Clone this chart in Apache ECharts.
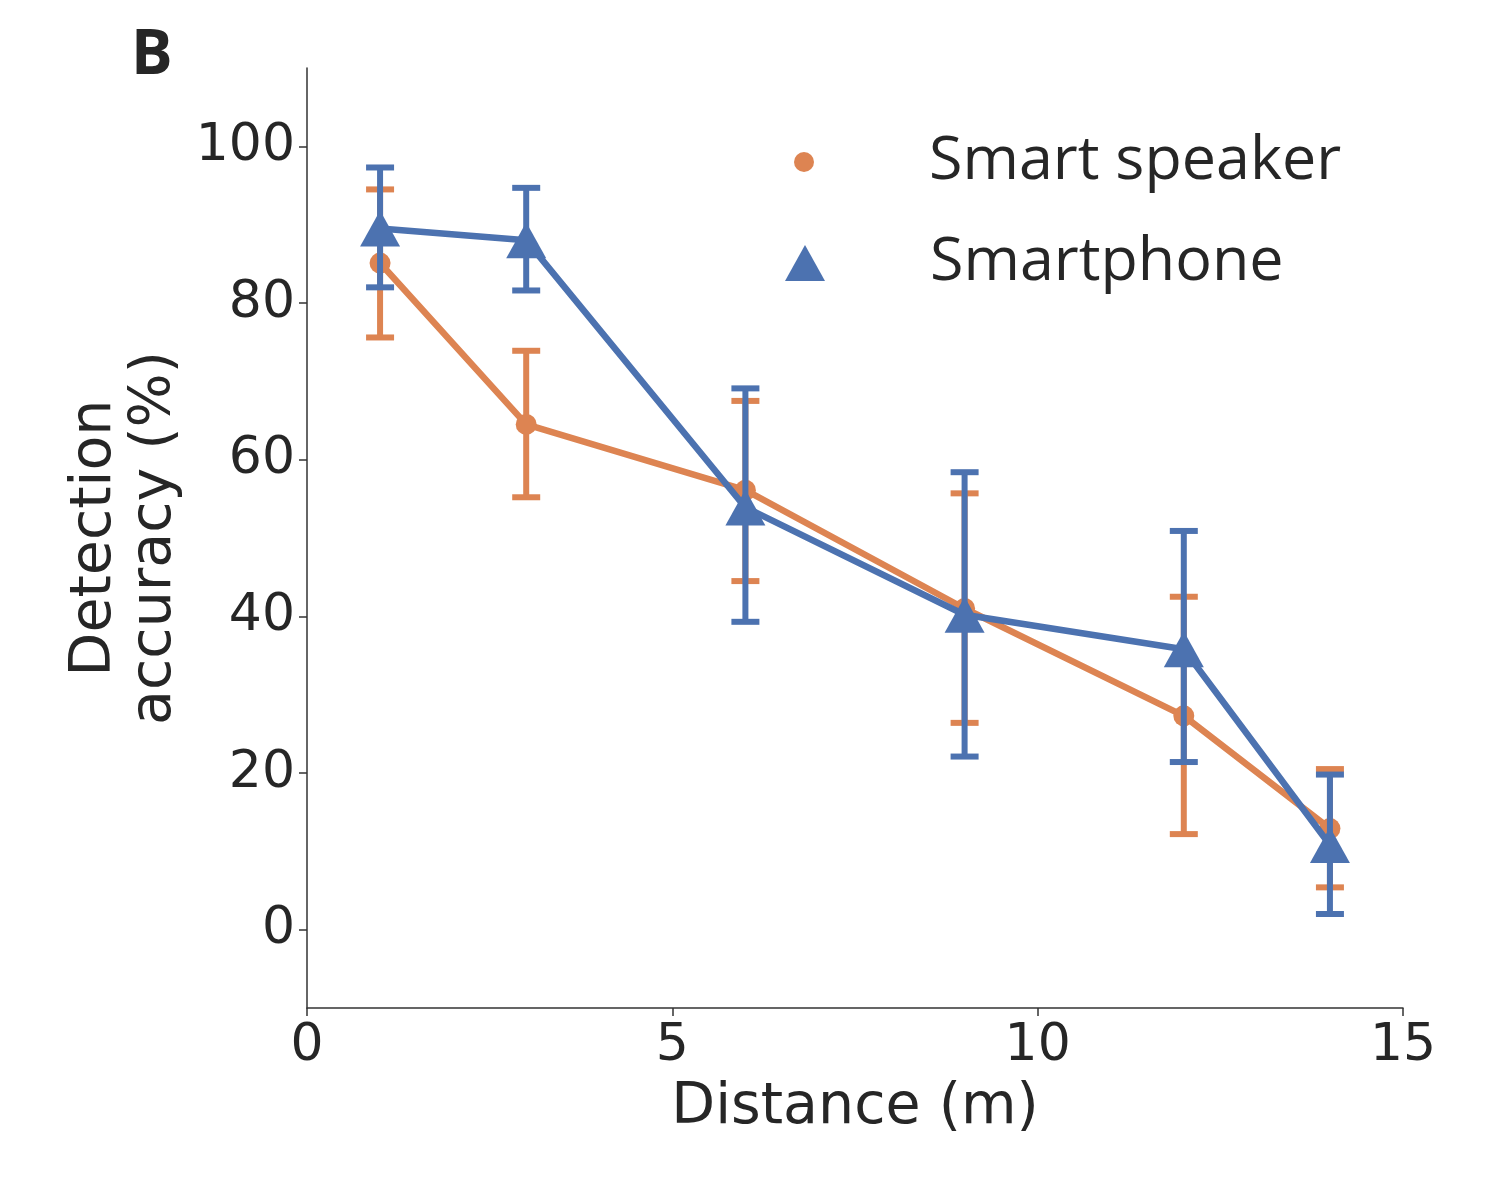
<!DOCTYPE html>
<html>
<head>
<meta charset="utf-8">
<script src="https://cdn.jsdelivr.net/npm/echarts@6/dist/echarts.min.js"></script>
<style>
  html, body { margin: 0; padding: 0; background: #fff; }
  #container { width: 1500px; height: 1200px; }
</style>
</head>
<body>
<div id="container"></div>
<script>
// values
var distances = [1, 3, 6, 9, 12, 14];
var speakerMean = [85.1, 64.5, 56.1, 41.0, 27.3, 12.9];
var speakerLow  = [75.6, 55.2, 44.5, 26.4, 12.2, 5.4];
var speakerHigh = [94.5, 73.9, 67.5, 55.7, 42.5, 20.5];
var phoneMean = [89.5, 88.0, 53.9, 40.2, 35.8, 10.8];
var phoneLow  = [82.0, 81.6, 39.3, 22.1, 21.4, 2.0];
var phoneHigh = [97.3, 94.7, 69.1, 58.4, 50.9, 19.8];
var yTicks = [0, 20, 40, 60, 80, 100];

var orange = '#dd8452';
var blue = '#4c72b0';
var ink = '#262626';

function pairs(xs, ys) {
    return xs.map(function (x, i) { return [x, ys[i]]; });
}
function bars(xs, lo, hi) {
    return xs.map(function (x, i) { return [x, lo[i], hi[i]]; });
}

function errorBars(color) {
    return function (params, api) {
        var x = api.value(0);
        var lo = api.coord([x, api.value(1)]);
        var hi = api.coord([x, api.value(2)]);
        var hw = 14;
        var st = { stroke: color, lineWidth: 6 };
        return {
            type: 'group',
            children: [
                { type: 'line', shape: { x1: lo[0], y1: lo[1], x2: hi[0], y2: hi[1] }, style: st },
                { type: 'line', shape: { x1: lo[0] - hw, y1: lo[1], x2: lo[0] + hw, y2: lo[1] }, style: st },
                { type: 'line', shape: { x1: hi[0] - hw, y1: hi[1], x2: hi[0] + hw, y2: hi[1] }, style: st }
            ]
        };
    };
}

var myChart = echarts.init(document.getElementById('container'));

var option = {
    animation: false,
    backgroundColor: '#fff',
    title: {
        text: 'B',
        left: 126,
        top: 20,
        textStyle: { fontFamily: 'Open Sans', fontWeight: 'bold', fontSize: 62, color: ink }
    },
    legend: [{
        left: 794,
        top: 126,
        padding: 0,
        itemWidth: 20,
        itemHeight: 20,
        data: [{ name: 'Smart speaker', icon: 'circle', itemStyle: { color: orange } }],
        textStyle: { fontFamily: 'Open Sans', fontSize: 61, color: ink, lineHeight: 72, padding: [0, 0, 0, 110] }
    }, {
        left: 785,
        top: 227,
        padding: 0,
        itemWidth: 40,
        itemHeight: 36,
        data: [{ name: 'Smartphone', icon: 'triangle', itemStyle: { color: blue } }],
        textStyle: { fontFamily: 'Open Sans', fontSize: 61, color: ink, lineHeight: 72, padding: [0, 0, 0, 100] }
    }],
    grid: { left: 307, right: 97, top: 68, bottom: 192, containLabel: false },
    xAxis: {
        type: 'value',
        min: 0,
        max: 15,
        interval: 5,
        name: 'Distance (m)',
        nameLocation: 'middle',
        nameGap: 72,
        nameTextStyle: { fontFamily: 'DejaVu Sans', fontSize: 57, color: ink },
        axisLine: { onZero: false, lineStyle: { color: '#333', width: 1.5 } },
        axisTick: { length: 8, lineStyle: { color: '#333', width: 1.5 } },
        axisLabel: { fontFamily: 'DejaVu Sans', fontSize: 52, color: ink, margin: 12 },
        splitLine: { show: false }
    },
    yAxis: {
        type: 'value',
        min: -10,
        max: 110,
        name: 'Detection\naccuracy (%)',
        nameLocation: 'middle',
        nameGap: 115,
        nameTextStyle: { fontFamily: 'DejaVu Sans', fontSize: 57, color: ink, lineHeight: 60 },
        axisLine: { show: true, onZero: false, lineStyle: { color: '#333', width: 1.5 } },
        axisTick: { show: true, length: 8, customValues: yTicks, lineStyle: { color: '#333', width: 1.5 } },
        axisLabel: { fontFamily: 'DejaVu Sans', fontSize: 52, color: ink, margin: 12, customValues: yTicks },
        splitLine: { show: false }
    },
    series: [{
        type: 'custom',
        name: 'speaker-err',
        z: 1,
        clip: false,
        renderItem: errorBars(orange),
        encode: { x: 0, y: [1, 2] },
        data: bars(distances, speakerLow, speakerHigh)
    }, {
        type: 'line',
        name: 'Smart speaker',
        z: 2,
        symbol: 'circle',
        symbolSize: 21,
        lineStyle: { color: orange, width: 6.5 },
        itemStyle: { color: orange },
        data: pairs(distances, speakerMean)
    }, {
        type: 'custom',
        name: 'phone-err',
        z: 3,
        clip: false,
        renderItem: errorBars(blue),
        encode: { x: 0, y: [1, 2] },
        data: bars(distances, phoneLow, phoneHigh)
    }, {
        type: 'line',
        name: 'Smartphone',
        z: 4,
        symbol: 'triangle',
        symbolSize: [40, 36],
        lineStyle: { color: blue, width: 6.5 },
        itemStyle: { color: blue },
        data: pairs(distances, phoneMean)
    }]
};

myChart.setOption(option);
</script>
</body>
</html>
